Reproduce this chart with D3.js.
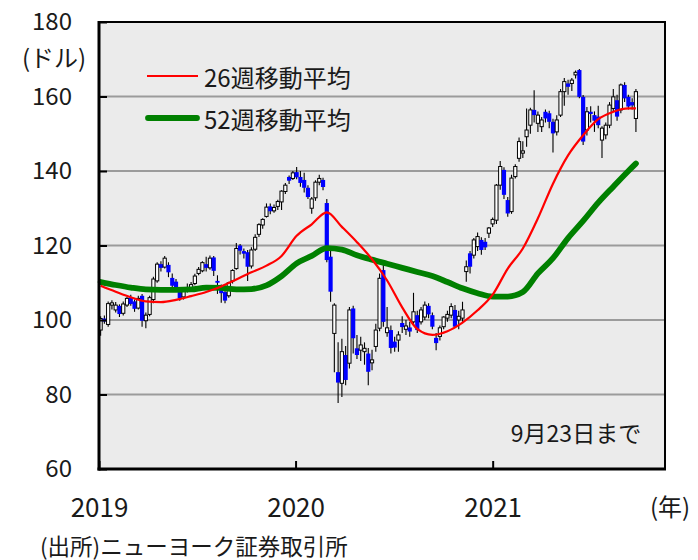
<!DOCTYPE html>
<html><head><meta charset="utf-8">
<script src="https://cdn.jsdelivr.net/npm/d3@7"></script>
<style>
body{margin:0;background:#fff;}
svg{display:block;}
text{font-family:"Noto Sans CJK JP","Noto Sans",sans-serif;fill:#1a1a1a;}
</style>
</head><body>
<svg id="c" width="698" height="560"></svg>
<script>
// Weekly OHLC (weeks ending Fridays, from 2019-01-04)
const open=[97.3,100.4,98.8,104.0,102.7,103.8,101.8,104.0,106.0,105.0,
103.2,106.5,99.8,101.5,105.5,110.5,115.0,114.2,114.8,111.3,
110.3,107.8,106.2,108.3,108.2,109.8,112.5,113.2,115.0,114.0,
116.8,110.5,108.5,107.5,106.5,110.5,113.8,120.0,118.5,118.2,
114.5,119.0,123.0,125.5,127.8,130.5,129.3,130.5,131.7,134.5,
138.4,138.0,139.7,138.4,137.6,135.5,130.0,132.8,137.0,137.6,
131.4,117.0,96.4,86.0,83.0,90.6,88.4,103.1,92.4,91.9,
91.5,91.0,88.5,92.9,97.8,113.4,96.6,97.3,94.2,94.6,
99.2,97.5,98.0,99.5,101.3,99.5,100.8,103.8,101.3,95.2,
95.6,98.2,100.5,101.3,102.7,100.0,100.5,113.0,117.9,117.4,
119.7,121.5,121.0,123.3,125.8,126.8,136.2,140.3,132.2,129.1,
138.5,143.4,144.8,149.2,152.3,156.4,152.8,151.9,155.9,155.5,
153.2,150.5,155.0,161.3,163.5,163.5,165.8,167.1,159.9,151.0,
155.9,155.0,154.6,148.3,149.7,152.3,156.8,159.0,156.4,163.1,
159.9,158.5,154.1];
const high=[101.0,101.2,105.0,105.3,104.8,104.2,105.0,106.2,106.8,105.5,
106.5,107.0,102.0,106.5,111.6,115.5,115.8,117.2,115.5,112.5,
111.0,108.8,108.6,109.8,110.2,112.4,114.2,115.8,117.0,117.3,
117.2,112.0,109.5,109.3,110.3,113.6,120.7,120.4,119.2,118.8,
119.5,123.0,126.0,127.3,131.3,131.3,131.0,132.3,134.8,136.8,
138.8,140.0,141.1,140.0,139.5,136.2,133.0,137.5,139.0,138.2,
132.5,119.0,104.5,94.0,95.0,93.0,103.5,103.8,96.0,95.5,
94.0,92.5,92.0,99.0,112.5,115.0,103.5,98.5,95.5,97.0,
101.0,100.0,99.5,107.3,102.5,103.5,105.0,104.5,102.0,96.5,
98.5,101.0,102.5,104.5,104.0,102.5,104.9,116.0,118.5,122.0,
123.5,122.2,122.0,125.0,127.5,136.5,142.7,141.0,133.0,139.0,
141.8,149.0,148.0,156.8,157.0,161.7,156.0,154.5,156.5,156.2,
154.0,155.0,162.0,165.0,164.5,165.0,167.0,167.4,160.4,157.2,
157.4,156.0,157.5,152.0,153.0,158.5,162.0,160.5,163.5,163.8,
160.5,159.5,162.0];
const low=[95.8,99.0,98.2,102.8,102.0,100.8,101.2,103.5,103.8,102.2,
102.8,98.2,97.8,101.0,104.5,110.0,113.0,113.8,111.5,108.5,
108.0,105.2,105.5,107.4,107.8,109.3,112.0,112.8,113.0,113.5,
111.8,107.0,104.6,104.5,106.0,109.8,113.5,117.6,116.5,110.5,
113.8,118.5,122.3,124.5,127.5,128.4,128.8,129.5,129.5,133.8,
136.5,137.6,137.8,135.8,134.2,132.5,128.5,132.0,136.2,134.8,
115.5,104.9,86.0,77.7,79.3,82.5,87.0,91.0,89.5,89.0,
88.0,82.5,86.5,91.5,97.0,98.2,95.5,91.0,91.5,91.5,
96.5,96.0,95.5,98.5,96.5,98.8,100.0,100.5,97.5,91.9,
94.5,97.5,99.5,100.5,98.0,97.5,99.5,110.3,112.5,116.5,
118.5,117.5,118.8,122.0,125.0,125.8,135.0,132.5,127.7,128.5,
138.0,142.5,143.5,146.5,150.0,153.0,150.5,150.5,153.0,151.5,
145.0,149.5,154.5,157.5,160.5,161.5,164.8,159.5,147.0,149.5,
153.0,150.5,151.5,143.5,148.5,151.5,156.0,153.5,155.5,158.5,
156.5,156.5,150.5];
const close=[100.4,99.6,104.4,104.6,104.0,101.6,104.3,105.8,104.3,103.0,
105.8,99.8,101.3,106.0,111.0,115.0,114.0,116.6,112.8,109.2,
108.8,105.8,108.2,108.0,109.5,111.8,113.6,115.4,114.0,116.6,
113.2,110.0,107.2,105.2,110.0,113.3,119.2,118.6,117.8,114.3,
118.8,122.2,125.6,127.0,130.3,129.2,130.2,131.8,134.6,136.2,
137.4,139.5,138.3,136.8,135.5,133.0,132.5,137.0,138.0,135.7,
116.1,107.6,104.0,83.2,91.5,83.9,102.7,95.1,90.6,93.3,
92.4,86.1,89.3,97.3,111.2,99.5,97.9,92.5,92.6,96.0,
98.1,98.4,96.9,102.2,97.3,102.7,104.0,101.5,98.2,93.8,
97.9,100.8,101.5,103.6,98.2,101.0,102.7,114.3,114.3,121.5,
122.4,118.8,119.5,124.7,127.0,136.2,141.2,133.6,128.6,138.1,
141.2,147.9,145.4,151.0,156.4,155.0,155.0,153.7,154.1,153.2,
150.1,153.7,161.3,164.0,162.6,164.4,166.5,159.9,147.9,155.9,
155.3,153.5,152.3,151.5,152.3,157.7,159.9,154.6,163.1,159.5,
157.3,157.6,161.3];

// Moving averages (week index -> value)
const maWeek=[0,4,8,12,16,20,24,28,32,36,40,44,48,52,56,60,64,68,72,76,80,84,88,92,96,100,104,108,112,116,120,124,128,132,136,140,142];
const ma26=[109.2,107.6,106.1,105.0,104.8,105.4,106.4,107.5,109.0,110.9,112.8,114.6,117.2,122.6,125.7,128.9,125.0,120.9,116.3,110.6,103.4,97.6,96.0,97.0,99.3,102.6,106.8,113.8,119.2,127.3,136.6,144.2,149.6,153.9,155.9,156.8,156.8];
const ma52=[110.2,109.4,108.7,108.2,108.1,108.1,108.2,108.7,108.6,108.2,108.3,109.3,111.8,115.2,117.2,119.3,118.9,117.4,116.2,115.1,114.0,112.9,111.8,110.2,108.5,107.2,106.3,106.3,107.5,112.5,116.6,122.0,126.6,131.5,135.8,140.0,142.0];

const yTicks=[60,80,100,120,140,160,180];
const yearTicks=[2019,2020,2021];
const legendLabels=["26週移動平均","52週移動平均"];

const L=99,R=665,T=22,B=469;
const svg=d3.select('#c');
const firstWeek=new Date(2019,0,4);
const weekDate=i=>d3.timeDay.offset(firstWeek,7*i);
const x=d3.scaleTime().domain([new Date(2019,0,1),new Date(2021,10,17)]).range([L,R]);
const y=d3.scaleLinear().domain([60,180]).range([B,T]);

// background
svg.append('rect').attr('x',L).attr('y',T).attr('width',R-L).attr('height',B-T).attr('fill','#ebebeb');
// gridlines
svg.append('g').selectAll('line').data(yTicks.filter(v=>v>60&&v<180)).join('line')
  .attr('x1',L).attr('x2',R).attr('y1',d=>y(d)).attr('y2',d=>y(d))
  .attr('stroke','#9b9b9b').attr('stroke-width',2.2);

// candles
const cg=svg.append('g');
close.forEach((c,i)=>{
  const cx=x(weekDate(i));
  const o=open[i], up=c>=o;
  cg.append('line').attr('x1',cx).attr('x2',cx).attr('y1',y(high[i])).attr('y2',y(low[i]))
    .attr('stroke','#000').attr('stroke-width',1.1);
  const top=y(Math.max(o,c)), h=Math.max(1,Math.abs(y(o)-y(c)));
  if(up){
    cg.append('rect').attr('x',cx-1.6).attr('y',top).attr('width',3.2).attr('height',h)
      .attr('fill','#fff').attr('stroke','#000').attr('stroke-width',1);
  } else {
    cg.append('rect').attr('x',cx-2.1).attr('y',top).attr('width',4.2).attr('height',h)
      .attr('fill','#0000ff');
  }
});

// moving averages
const line=d3.line().x(d=>x(weekDate(d[0]))).y(d=>y(d[1])).curve(d3.curveMonotoneX);
svg.append('path').datum(maWeek.map((w,k)=>[w,ma52[k]])).attr('d',line)
  .attr('fill','none').attr('stroke','#008000').attr('stroke-width',5.8).attr('stroke-linecap','round');
svg.append('path').datum(maWeek.map((w,k)=>[w,ma26[k]])).attr('d',line)
  .attr('fill','none').attr('stroke','#ff0000').attr('stroke-width',2.2);

// frame
svg.append('rect').attr('x',L).attr('y',T).attr('width',R-L).attr('height',B-T)
  .attr('fill','none').attr('stroke','#000').attr('stroke-width',2);
svg.append('line').attr('x1',L).attr('x2',L).attr('y1',T-1).attr('y2',B+1.5).attr('stroke','#000').attr('stroke-width',3);
svg.append('line').attr('x1',L-1.5).attr('x2',R+1).attr('y1',B).attr('y2',B).attr('stroke','#000').attr('stroke-width',3);

// y axis
const gy=svg.append('g').attr('transform',`translate(${L},0)`)
  .call(d3.axisLeft(y).tickValues(yTicks).tickSize(-8).tickPadding(27).tickFormat(d3.format('d')));
gy.select('.domain').remove();
gy.selectAll('.tick line').attr('stroke','#000').attr('stroke-width',2);
gy.selectAll('.tick text').attr('font-size',24).attr('font-family','"Noto Sans CJK JP",sans-serif').attr('fill','#1a1a1a');

// x axis
const gx=svg.append('g').attr('transform',`translate(0,${B})`)
  .call(d3.axisBottom(x).tickValues(yearTicks.map(yr=>new Date(yr,0,1))).tickSize(-8).tickPadding(30).tickFormat(d3.timeFormat('%Y')));
gx.select('.domain').remove();
gx.selectAll('.tick line').attr('stroke','#000').attr('stroke-width',2);
gx.selectAll('.tick text').attr('font-size',26).attr('font-family','"Noto Sans CJK JP",sans-serif').attr('fill','#1a1a1a');

// unit labels
svg.append('text').attr('x',54).attr('y',56).attr('text-anchor','middle').attr('dominant-baseline','central')
  .attr('font-size',24).text('(ドル)');
svg.append('text').attr('x',670).attr('y',505).attr('text-anchor','middle').attr('dominant-baseline','central')
  .attr('font-size',24).text('(年)');
svg.append('text').attr('x',576).attr('y',432).attr('text-anchor','middle').attr('dominant-baseline','central')
  .attr('font-size',23).text('9月23日まで');
svg.append('text').attr('x',40).attr('y',545).attr('dominant-baseline','central')
  .attr('font-size',22.5).text('(出所)ニューヨーク証券取引所');

// legend
const lg=svg.append('g');
lg.append('line').attr('x1',147).attr('x2',198).attr('y1',76).attr('y2',76).attr('stroke','#ff0000').attr('stroke-width',2);
lg.append('line').attr('x1',148).attr('x2',197).attr('y1',118).attr('y2',118).attr('stroke','#008000').attr('stroke-width',5.8).attr('stroke-linecap','round');
lg.append('text').attr('x',204).attr('y',76).attr('dominant-baseline','central').attr('font-size',24).text(legendLabels[0]);
lg.append('text').attr('x',204).attr('y',118).attr('dominant-baseline','central').attr('font-size',24).text(legendLabels[1]);
</script>
</body></html>
